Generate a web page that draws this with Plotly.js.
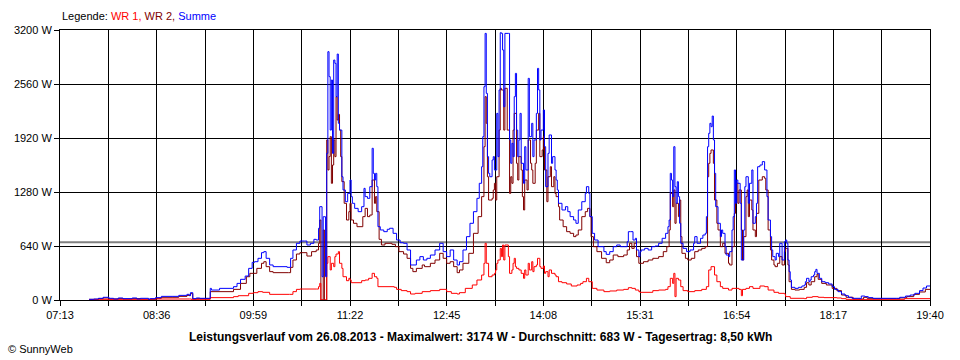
<!DOCTYPE html>
<html><head><meta charset="utf-8">
<script src="https://cdn.plot.ly/plotly-3.0.1.min.js"></script>
<style>html,body{margin:0;padding:0;background:#fff}#chart{width:960px;height:360px}</style>
</head><body><div id="chart"></div>
<script>
// ---- data (times HH:MM, values in W) ----
const xTickLabels = ["07:13","08:36","09:59","11:22","12:45","14:08","15:31","16:54","18:17","19:40"];
const yTickValues = [0, 640, 1280, 1920, 2560, 3200];
const yTickLabels = ["0 W","640 W","1280 W","1920 W","2560 W","3200 W"];
const averageW = 683;
const titleText = "Leistungsverlauf vom 26.08.2013 - Maximalwert: 3174 W - Durchschnitt: 683 W - Tagesertrag: 8,50 kWh";

const summeTimes = [
"07:38","07:42","07:46","07:50","07:55","07:59","08:03","08:07","08:15","08:19",
"08:22","08:29","08:30","08:35","08:40","08:50","08:55","09:02","09:04","09:05",
"09:07","09:10","09:13","09:22","09:23","09:30","09:42","09:45","09:48","09:52",
"09:55","09:58","10:00","10:03","10:06","10:08","10:10","10:13","10:16","10:28",
"10:31","10:33","10:36","10:39","10:43","10:45","10:48","10:51","10:53","10:55",
"10:56","10:58","10:59","11:01","11:02","11:03","11:04","11:05","11:06","11:07",
"11:08","11:09","11:10","11:11","11:12","11:13","11:15","11:16","11:18","11:20",
"11:22","11:23","11:24","11:26","11:29","11:32","11:34","11:35","11:37","11:39",
"11:41","11:42","11:43","11:44","11:45","11:46","11:48","11:51","11:54","11:56",
"11:59","12:02","12:05","12:08","12:11","12:14","12:16","12:19","12:22","12:25",
"12:28","12:31","12:35","12:39","12:42","12:45","12:48","12:51","12:54","12:56",
"12:59","13:02","13:05","13:08","13:11","13:13","13:15","13:16","13:17","13:18",
"13:19","13:20","13:21","13:22","13:24","13:25","13:26","13:28","13:29","13:30",
"13:31","13:32","13:33","13:34","13:35","13:38","13:39","13:40","13:41","13:42",
"13:43","13:44","13:45","13:46","13:47","13:48","13:49","13:51","13:52","13:53",
"13:55","13:56","13:58","13:59","14:00","14:02","14:03","14:04","14:05","14:06",
"14:08","14:09","14:10","14:12","14:13","14:15","14:16","14:18","14:19","14:20",
"14:21","14:24","14:27","14:29","14:31","14:34","14:36","14:38","14:41","14:44",
"14:45","14:47","14:48","14:50","14:52","14:55","15:00","15:02","15:05","15:08",
"15:11","15:14","15:17","15:20","15:21","15:23","15:25","15:27","15:28","15:30",
"15:31","15:32","15:35","15:38","15:41","15:44","15:47","15:50","15:53","15:55",
"15:56","15:57","15:58","15:59","16:00","16:01","16:02","16:03","16:04","16:05",
"16:06","16:08","16:11","16:14","16:17","16:18","16:20","16:23","16:25","16:27",
"16:28","16:29","16:30","16:31","16:32","16:33","16:34","16:35","16:36","16:38",
"16:40","16:41","16:42","16:44","16:45","16:47","16:48","16:50","16:51","16:52",
"16:53","16:54","16:55","16:57","16:58","17:00","17:01","17:02","17:04","17:05",
"17:07","17:08","17:10","17:11","17:12","17:14","17:16","17:18","17:20","17:21",
"17:23","17:24","17:25","17:27","17:28","17:30","17:31","17:33","17:35","17:36",
"17:37","17:38","17:39","17:40","17:41","17:44","17:47","17:50","17:52","17:53",
"17:54","17:56","17:57","17:58","18:00","18:01","18:02","18:03","18:05","18:07",
"18:10","18:13","18:16","18:18","18:21","18:24","18:27","18:30","18:33","18:40",
"18:41","18:44","18:47","18:51","19:11","19:14","19:19","19:23","19:27","19:31",
"19:34","19:37","19:40"];
const summeW = [
8,12,20,32,20,12,24,16,24,12,
20,8,16,28,43,43,55,67,51,87,
16,24,20,138,118,138,158,197,245,284,
375,446,454,494,561,573,494,415,395,387,
494,593,672,699,699,652,672,719,711,850,
1106,276,987,276,1738,2943,2647,2014,2607,1738,
2844,2805,2410,2915,2094,2014,1461,1304,1165,1264,
1422,1225,1146,1086,1047,1106,1323,1225,1205,1343,
1798,1501,1422,1501,1343,869,830,810,838,850,
790,711,679,672,593,415,415,474,514,474,
494,533,593,672,573,514,593,474,415,454,
593,751,909,1047,1205,1383,1580,1936,2528,3160,
2449,1699,1501,1461,1659,1699,1541,2212,1699,2489,
3168,3160,2963,2291,3160,3160,1897,1620,1857,1699,
2410,2686,2014,1699,1897,2212,1620,1383,1817,1541,
2627,1936,2094,1699,1897,2212,2745,2489,1897,2014,
2252,1817,1343,1738,1956,1620,1699,1541,1422,1304,
1146,1067,1106,1047,988,948,909,1067,1165,1264,
1343,1264,988,790,711,632,573,541,573,632,
652,632,632,691,810,810,711,731,593,514,
573,593,612,593,632,640,672,731,790,869,
948,1501,1422,1225,1817,1343,1146,1402,1225,909,
672,612,573,593,672,751,672,731,770,790,
988,1817,1976,2094,2054,2180,1897,1501,1106,909,
751,830,790,632,533,514,573,830,988,1541,
1146,1422,1383,1146,474,830,1343,1461,1146,1383,
1541,909,988,1146,1580,1600,1640,1541,1225,948,
751,593,514,474,553,514,672,474,691,711,
672,474,336,237,150,138,150,166,178,217,
257,217,237,276,296,336,363,316,257,217,
205,190,158,126,99,71,51,32,20,16,
47,40,28,20,20,32,47,59,79,111,
142,166,166];

const wr2Times = [
"07:38","07:46","07:50","07:55","08:03","08:07","08:15","08:22","08:29","08:35",
"08:40","08:50","08:55","09:02","09:05","09:07","09:10","09:22","09:42","09:48",
"09:53","09:56","10:02","10:06","10:08","10:10","10:13","10:16","10:29","10:31",
"10:33","10:36","10:39","10:45","10:49","10:53","10:55","10:56","10:57","10:59",
"11:00","11:02","11:03","11:04","11:05","11:06","11:07","11:08","11:09","11:10",
"11:11","11:12","11:13","11:14","11:15","11:17","11:19","11:21","11:22","11:23",
"11:25","11:28","11:33","11:35","11:37","11:39","11:41","11:43","11:44","11:45",
"11:47","11:49","11:52","11:58","12:01","12:04","12:08","12:11","12:14","12:16",
"12:19","12:24","12:26","12:31","12:35","12:39","12:42","12:45","12:48","12:51",
"12:54","12:56","12:59","13:04","13:08","13:12","13:15","13:17","13:18","13:19",
"13:20","13:21","13:24","13:25","13:26","13:27","13:28","13:30","13:31","13:32",
"13:34","13:35","13:36","13:37","13:39","13:40","13:41","13:42","13:43","13:45",
"13:46","13:47","13:49","13:50","13:51","13:52","13:54","13:55","13:57","13:58",
"13:59","14:01","14:02","14:04","14:05","14:07","14:08","14:09","14:11","14:12",
"14:14","14:15","14:17","14:18","14:19","14:21","14:22","14:25","14:28","14:31",
"14:34","14:36","14:38","14:41","14:44","14:46","14:48","14:49","14:51","14:54",
"14:58","15:02","15:05","15:08","15:12","15:17","15:20","15:22","15:24","15:26",
"15:28","15:30","15:34","15:38","15:42","15:47","15:51","15:54","15:56","15:57",
"15:59","16:00","16:01","16:02","16:04","16:05","16:06","16:07","16:10","16:12",
"16:15","16:18","16:21","16:24","16:27","16:29","16:30","16:31","16:32","16:34",
"16:35","16:37","16:38","16:40","16:42","16:44","16:47","16:48","16:50","16:52",
"16:53","16:55","16:56","16:58","16:59","17:00","17:02","17:03","17:04","17:05",
"17:07","17:08","17:10","17:11","17:13","17:16","17:18","17:19","17:21","17:23",
"17:24","17:26","17:27","17:29","17:31","17:33","17:35","17:36","17:38","17:39",
"17:41","17:44","17:48","17:52","17:54","17:56","17:58","18:01","18:03","18:04",
"18:07","18:11","18:16","18:20","18:24","18:28","18:34","18:40","18:43","18:46",
"18:51","19:11","19:14","19:20","19:26","19:31","19:36","19:40"];
const wr2W = [
8,16,24,12,16,12,16,12,4,20,
32,32,43,55,75,12,16,99,126,197,
276,316,375,435,454,395,336,324,324,387,
474,545,561,521,573,593,672,948,0,830,
0,1897,1541,1700,1936,1383,1600,1897,1699,2410,
2133,2200,2014,1699,1403,1146,948,1047,1146,948,
909,869,988,1086,988,1007,1422,1146,1225,1047,
719,652,672,660,632,573,545,494,375,336,
375,415,395,435,474,553,494,435,454,395,
324,356,435,553,790,988,1225,1817,2410,2094,
1461,1185,1205,1304,1383,1185,1461,2014,2509,2489,
2014,2509,2509,2014,1264,1461,1383,2014,2212,1620,
1422,1699,1541,1225,1067,1422,1304,1897,1620,1541,
1383,1620,2014,2212,1699,1778,1936,1541,1165,1461,
1580,1343,1461,1264,1225,1106,948,869,810,790,
751,770,830,988,1047,1086,988,751,632,573,
494,442,474,533,514,533,593,672,612,672,
514,435,454,474,494,514,573,632,830,1264,
1106,1304,909,1146,988,1185,751,553,494,474,
494,573,593,612,632,1461,1620,1738,1778,1620,
1185,909,830,632,672,553,435,415,632,1027,
1383,1146,1304,830,474,751,1225,1304,988,1185,
1067,830,751,1027,1422,1461,1442,1304,830,593,
474,415,395,435,514,415,573,612,415,217,
126,118,126,150,205,178,217,276,308,245,
197,178,138,111,59,32,12,12,32,20,
16,16,24,40,67,95,126,126];

const wr1Times = [
"07:38","07:47","08:07","08:31","09:04","09:06","09:13","09:22","09:42","09:46",
"09:55","09:59","10:03","10:07","10:13","10:30","10:33","10:36","10:39","10:53",
"10:55","10:56","10:57","11:01","11:02","11:03","11:05","11:06","11:08","11:09",
"11:10","11:12","11:13","11:15","11:16","11:19","11:21","11:22","11:23","11:32",
"11:35","11:38","11:41","11:43","11:45","11:46","12:00","12:02","12:06","12:11",
"12:14","12:18","12:24","12:31","12:39","12:45","12:49","12:54","12:56","13:01",
"13:07","13:11","13:15","13:17","13:18","13:19","13:21","13:24","13:26","13:27",
"13:28","13:29","13:31","13:32","13:33","13:34","13:35","13:36","13:38","13:39",
"13:41","13:42","13:43","13:44","13:45","13:47","13:49","13:51","13:52","13:53",
"13:55","13:56","13:58","13:59","14:00","14:02","14:03","14:05","14:06","14:08",
"14:09","14:10","14:12","14:13","14:15","14:18","14:19","14:21","14:24","14:28",
"14:32","14:37","14:40","14:42","14:45","14:47","14:50","14:54","15:00","15:05",
"15:11","15:17","15:21","15:24","15:27","15:30","15:31","15:42","15:47","15:53",
"15:55","15:57","15:59","16:00","16:01","16:02","16:04","16:06","16:08","16:12",
"16:18","16:24","16:28","16:30","16:32","16:35","16:37","16:40","16:42","16:47",
"16:50","16:56","16:58","16:59","17:02","17:05","17:08","17:14","17:18","17:21",
"17:26","17:30","17:35","17:36","17:40","17:52","17:54","17:59","18:04","18:09",
"18:20","18:24","18:28","18:40","19:18","19:40"];
const wr1W = [
4,8,4,12,12,4,8,28,40,51,
79,87,99,91,67,67,99,126,130,130,
158,197,0,0,435,514,356,435,395,514,
545,573,435,375,276,229,257,237,205,229,
237,257,316,276,257,158,150,126,111,99,
71,79,99,111,126,99,79,71,87,138,
178,237,296,435,672,435,276,296,316,356,
435,474,612,514,652,474,652,652,514,316,
356,435,494,395,375,356,316,257,356,296,
435,356,454,336,395,415,494,395,375,403,
316,336,276,356,316,296,276,217,205,190,
166,178,197,217,257,217,138,118,99,107,
118,126,146,138,118,99,91,111,118,126,
158,257,197,316,40,257,237,158,111,99,
111,126,158,356,395,296,217,158,138,118,
138,126,51,126,138,158,138,166,158,118,
91,79,71,40,20,16,32,40,32,28,
24,16,8,4,16,16];

// ---- drawing ----
function toMin(s){ const p = s.split(":").map(Number); return p[0]*60 + p[1]; }

const labelMins = xTickLabels.map(toMin);
const tickVals = [], tickText = [];
labelMins.forEach((m, i) => {
  tickVals.push(m); tickText.push(xTickLabels[i]);
  if (i < labelMins.length - 1) { tickVals.push((m + labelMins[i+1]) / 2); tickText.push(""); }
});

function series(times, vals, color){
  return { x: times.map(toMin), y: vals, type: "scatter", mode: "lines",
           line: { color: color, width: 1, shape: "hv" }, hoverinfo: "skip" };
}

const data = [
  series(wr2Times, wr2W, "#800000"),
  series(wr1Times, wr1W, "#ff0000"),
  series(summeTimes, summeW, "#0000ff")
];

const FONT = "Liberation Sans, Arial, sans-serif";
const layout = {
  width: 960, height: 360,
  margin: { l: 60, r: 30, t: 30, b: 60, pad: 0 },
  paper_bgcolor: "#ffffff", plot_bgcolor: "#ffffff",
  showlegend: false,
  font: { family: FONT, size: 11, color: "#000000" },
  xaxis: {
    range: [labelMins[0], labelMins[labelMins.length - 1]],
    tickmode: "array", tickvals: tickVals, ticktext: tickText,
    showgrid: true, gridcolor: "#000000", gridwidth: 1,
    ticks: "outside", ticklen: 5, tickcolor: "#000000", tickwidth: 1,
    showline: true, linecolor: "#000000", linewidth: 1, mirror: true,
    zeroline: false, fixedrange: true,
    tickfont: { family: FONT, size: 11, color: "#000" }
  },
  yaxis: {
    range: [yTickValues[0], yTickValues[yTickValues.length - 1]],
    tickmode: "array", tickvals: yTickValues, ticktext: yTickLabels,
    showgrid: true, gridcolor: "#000000", gridwidth: 1,
    ticks: "outside", ticklen: 5, tickcolor: "#000000", tickwidth: 1,
    showline: true, linecolor: "#000000", linewidth: 1, mirror: true,
    zeroline: false, fixedrange: true,
    tickfont: { family: FONT, size: 11, color: "#000" }
  },
  shapes: [{
    type: "line", xref: "paper", x0: 0, x1: 1, yref: "y", y0: averageW, y1: averageW,
    line: { color: "#808080", width: 2 }, layer: "below"
  }],
  annotations: [
    { xref: "paper", yref: "paper", x: 0, y: 1, xanchor: "left", yanchor: "bottom", yshift: 6, xshift: 0,
      showarrow: false, align: "left", font: { family: FONT, size: 11, color: "#000" },
      text: 'Legende: <span style="color:#ff0000">WR 1,</span> <span style="color:#800000">WR 2,</span> <span style="color:#0000ff">Summe</span>' },
    { xref: "paper", yref: "paper", x: (480 - 60) / 870, y: 0, xanchor: "center", yanchor: "middle", yshift: -37,
      showarrow: false, font: { family: FONT, size: 12, color: "#000" }, text: "<b>" + titleText + "</b>" },
    { xref: "paper", yref: "paper", x: 0, y: 0, xanchor: "left", yanchor: "middle", xshift: -54, yshift: -49,
      showarrow: false, font: { family: FONT, size: 11, color: "#000" }, text: "© SunnyWeb" }
  ]
};

Plotly.newPlot("chart", data, layout, { displayModeBar: false, staticPlot: true });
</script>
</body></html>
